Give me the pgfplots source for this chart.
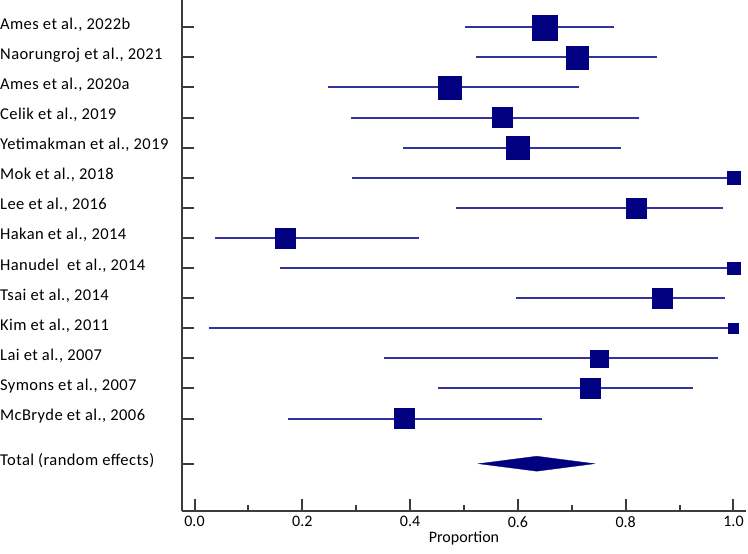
\documentclass[border=0pt]{standalone}
\usepackage{pgfplots}
\pgfplotsset{compat=1.18}
\usepackage{pgfplotstable}
\usepackage{fontspec}
\setmainfont{Carlito}
\newfontfamily\lblfont{Carlito}[LetterSpace=2.5]

\definecolor{ci}{RGB}{50,50,160}
\definecolor{sq}{RGB}{0,0,128}
\definecolor{axc}{RGB}{60,60,60}

% y: row position, est: proportion, lo/hi: 95% CI, size: square side (px)
\pgfplotstableread{
y    est    lo     hi     size
14.5 0.649  0.502  0.779  25.7
13.5 0.710  0.522  0.859  23.3
12.5 0.474  0.247  0.713  23.3
11.5 0.571  0.290  0.825  20.7
10.5 0.600  0.387  0.791  23.3
9.5  1.000  0.293  1.000  13.0
8.5  0.819  0.485  0.981  20.7
7.5  0.168  0.038  0.417  20.7
6.5  1.000  0.159  1.000  13.0
5.5  0.868  0.597  0.985  20.3
4.5  1.000  0.026  1.000  10.3
3.5  0.751  0.351  0.971  18.0
2.5  0.734  0.452  0.924  20.7
1.5  0.389  0.174  0.645  20.7
}\studies

\begin{document}
\begin{tikzpicture}[x=1pt,y=1pt]
\useasboundingbox (0,0) rectangle (748,-554);
\begin{axis}[
  at={(182pt,0pt)}, anchor=north west,
  scale only axis, width=564pt, height=511pt,
  xmin=-0.0232, xmax=1.0232, ymin=-1.571, ymax=15.405,
  axis x line=bottom, axis y line=left,
  axis line style={-, line width=2.5pt, color=axc},
  tick align=inside,
  tick style={line width=2pt, color=axc},
  major tick length=12.5pt, minor tick length=6pt,
  xtick={0,0.2,0.4,0.6,0.8,1},
  xticklabels={0.0,0.2,0.4,0.6,0.8,1.0},
  minor xtick={0.1,0.3,0.5,0.7,0.9},
  ytick={0,1.5,2.5,3.5,4.5,5.5,6.5,7.5,8.5,9.5,10.5,11.5,12.5,13.5,14.5},
  yticklabels={{Total (random effects)},{McBryde et al., 2006},{Symons et al., 2007},{Lai et al., 2007},{Kim et al., 2011},{Tsai et al., 2014},{Hanudel~ et al., 2014},{Hakan et al., 2014},{Lee et al., 2016},{Mok et al., 2018},{Yetimakman et al., 2019},{Celik et al., 2019},{Ames et al., 2020a},{Naorungroj et al., 2021},{Ames et al., 2022b}},
  yticklabel style={anchor=base west, inner sep=0pt, xshift=-182pt, yshift=-2pt, font=\lblfont\fontsize{16.5}{19}\selectfont, text=black},
  xticklabel style={font=\fontsize{16}{19}\selectfont, text=black, yshift=-2pt},
  /pgf/number format/assume math mode=true,
  xlabel={Proportion},
  xlabel style={font=\fontsize{16}{19}\selectfont, anchor=base, at={(axis description cs:0.5,0)}, yshift=-31pt},
  clip=false,
]
\addplot[forget plot, draw=none, mark=none,
  error bars/.cd, x dir=both, x explicit, error mark=none,
  error bar style={draw=ci, line width=2pt}]
  table[x=est, y=y,
        x error plus expr=\thisrow{hi}-\thisrow{est},
        x error minus expr=\thisrow{est}-\thisrow{lo}] {\studies};
\addplot[scatter, only marks, mark=square*,
  scatter/use mapped color={draw=sq, fill=sq},
  mark options={line width=0.3pt},
  visualization depends on={\thisrow{size}/2-0.3 \as \msize},
  scatter/@pre marker code/.append style={/tikz/mark size=\msize pt}]
  table[x=est, y=y] {\studies};
\addplot[fill=sq, draw=sq, line width=0.3pt, mark=none]
  coordinates {(0.527,0) (0.635,0.249) (0.742,0) (0.635,-0.249)} -- cycle;
\end{axis}
\end{tikzpicture}
\end{document}
